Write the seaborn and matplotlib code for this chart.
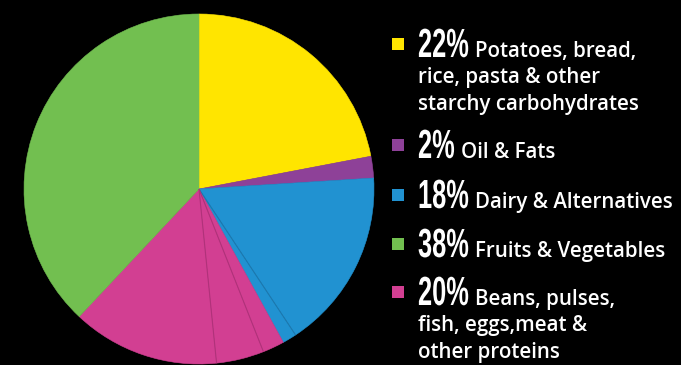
import matplotlib
matplotlib.use("Agg")
import matplotlib.pyplot as plt
import matplotlib.patches as mpatches
from matplotlib.patheffects import AbstractPathEffect
from matplotlib.transforms import Affine2D
import seaborn as sns
import numpy as np

# Eatwell-style food group shares (percent), in legend order
groups = ["Potatoes, bread,\nrice, pasta & other\nstarchy carbohydrates",
          "Oil & Fats",
          "Dairy & Alternatives",
          "Fruits & Vegetables",
          "Beans, pulses,\nfish, eggs,meat &\nother proteins"]
shares = [22, 2, 18, 38, 20]
share_labels = ["22%", "2%", "18%", "38%", "20%"]
group_colors = ["#FFE500", "#8E4198", "#2192D1", "#72BF50", "#D23F92"]
divider_colors = [None, None, "#1C78AE", None, "#B0327A"]

# finer split inside two of the groups (sums equal the group shares)
dairy_parts = [16.7, 1.3]
protein_parts = [2.0, 4.4, 13.6]

# clockwise drawing order of the groups around the pie
pie_order = [0, 1, 2, 4, 3]
sub_parts = {2: dairy_parts, 4: protein_parts}

sns.set_style("dark", {"axes.facecolor": "black", "figure.facecolor": "black"})
palette = sns.color_palette(group_colors)

W, H = 681, 365
fig = plt.figure(figsize=(W / 100, H / 100), dpi=100, facecolor="black")
ax = fig.add_axes([24 / W, 1 / H, 350 / W, 350 / H])
ax.set_facecolor("black")

values, colors, owner, first = [], [], [], []
for g in pie_order:
    parts = sub_parts.get(g, [shares[g]])
    for i, p in enumerate(parts):
        values.append(p)
        colors.append(palette[g])
        owner.append(g)
        first.append(i == 0)

wedges, _ = ax.pie(values, colors=colors, startangle=90, counterclock=False,
                   radius=1.0, wedgeprops=dict(linewidth=0.4))
for w, c in zip(wedges, colors):
    w.set_edgecolor(c)

# thin dividers between the sub-portions of a group
for w, g, f in zip(wedges, owner, first):
    if not f:
        ang = np.deg2rad(w.theta2)
        ax.plot([0, np.cos(ang)], [0, np.sin(ang)], color=divider_colors[g],
                lw=0.8, solid_capstyle="butt", zorder=3)
ax.set_xlim(-1.0, 1.0)
ax.set_ylim(-1.0, 1.0)
ax.set_aspect("equal")
ax.axis("off")


class VStretch(AbstractPathEffect):
    """Stretch glyphs vertically about their baseline (display px) for a tall, narrow look."""

    def __init__(self, sy, y0):
        super().__init__()
        self._sy = sy
        self._y0 = y0

    def draw_path(self, renderer, gc, tpath, affine, rgbFace=None):
        stretch = (Affine2D().translate(0, -self._y0)
                   .scale(1, self._sy).translate(0, self._y0))
        renderer.draw_path(gc, tpath, affine + stretch, rgbFace)


# legend built from text and squares, positioned in pixel space
def fx(px):
    return px / W


def fy(py):
    return 1 - py / H


baselines = [57, 158, 208, 257, 305]
line_step = 26.5
num_x = 418
stretch = 1.6
big_font = dict(family=["Liberation Sans", "DejaVu Sans"], fontweight="bold",
                fontsize=18.3, color="white")
body_font = dict(family=["Open Sans", "DejaVu Sans"], fontweight="semibold",
                 fontsize=14.8, color="white")

renderer = fig.canvas.get_renderer()
for k, (lab, pct) in enumerate(zip(groups, share_labels)):
    b = baselines[k]
    fig.patches.append(mpatches.Rectangle((fx(392), fy(b - 7)), 12 / W, 12 / H,
                                          transform=fig.transFigure,
                                          facecolor=palette[k], edgecolor="none"))
    t = fig.text(fx(num_x), fy(b), pct, va="baseline", ha="left", **big_font)
    t.set_path_effects([VStretch(stretch, H - b)])
    bb = t.get_window_extent(renderer=renderer)
    lines = lab.split("\n")
    fig.text((bb.x1 + 6) / W, fy(b), lines[0], va="baseline", ha="left", **body_font)
    for i, ln in enumerate(lines[1:], start=1):
        fig.text(fx(num_x), fy(b + line_step * i), ln, va="baseline", ha="left", **body_font)

fig.savefig("out.png", dpi=100, facecolor="black")
